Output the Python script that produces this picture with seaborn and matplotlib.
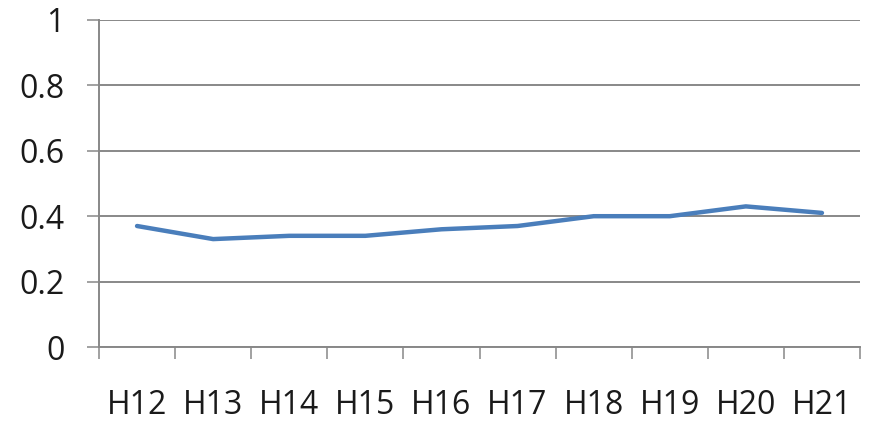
import matplotlib
matplotlib.use("Agg")
import matplotlib.pyplot as plt
import seaborn as sns
import pandas as pd
import numpy as np

periods = ["H12", "H13", "H14", "H15", "H16", "H17", "H18", "H19", "H20", "H21"]
values = [0.37, 0.33, 0.34, 0.34, 0.36, 0.37, 0.40, 0.40, 0.43, 0.41]
y_ticks = [0, 0.2, 0.4, 0.6, 0.8, 1]
y_tick_labels = ["0", "0.2", "0.4", "0.6", "0.8", "1"]

sns.set_theme(style="white")
plt.rcParams["font.family"] = ["Open Sans", "DejaVu Sans"]

df = pd.DataFrame({"period": periods, "value": values})

fig = plt.figure(figsize=(8.71, 4.22), dpi=100)
ax = fig.add_axes([99 / 871, 75 / 422, 761 / 871, 327 / 422])

grid_color = "#888888"
for y in y_ticks:
    ax.axhline(y, color=grid_color, lw=1.4, zorder=1)

x = np.arange(len(periods))
sns.lineplot(x=x, y=df["value"], ax=ax, color="#4A7EBB", lw=3.2,
             zorder=3, legend=False)

ax.set_xlim(-0.5, len(periods) - 0.5)
ax.set_ylim(0, 1)

ax.set_yticks(y_ticks)
ax.set_yticklabels(y_tick_labels, fontsize=23, color="#1a1a1a")
ax.set_xticks(x)
ax.set_xticklabels(periods, fontsize=23, color="#1a1a1a")
ax.set_xticks(np.arange(-0.5, len(periods)), minor=True)

ax.tick_params(axis="y", which="major", length=8.6, width=1.1, color=grid_color,
               pad=16, left=True)
ax.tick_params(axis="x", which="major", length=0, pad=30, bottom=True)
ax.tick_params(axis="x", which="minor", length=8.6, width=1.1, color=grid_color,
               bottom=True)

for side in ["top", "right"]:
    ax.spines[side].set_visible(False)
ax.spines["left"].set_color(grid_color)
ax.spines["left"].set_linewidth(1.4)
ax.spines["bottom"].set_color(grid_color)
ax.spines["bottom"].set_linewidth(1.4)
ax.set_xlabel("")
ax.set_ylabel("")

fig.savefig("out.png", dpi=100, facecolor="white")
